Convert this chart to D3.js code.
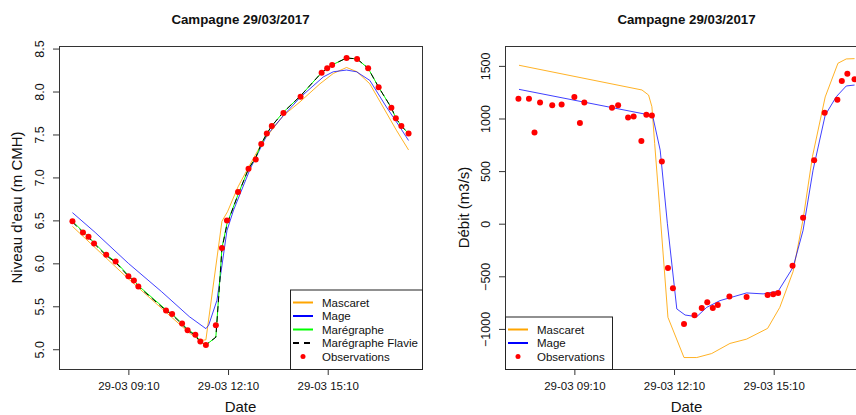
<!DOCTYPE html>
<html>
<head>
<meta charset="utf-8">
<script src="https://cdnjs.cloudflare.com/ajax/libs/d3/7.8.5/d3.min.js"></script>
<style>
    body { margin: 0; background: #fff; }
    svg text { font-family: "Liberation Sans", Arial, Helvetica, sans-serif; fill: #111; }
</style>
</head>
<body>
<div id="chart"></div>
<script>

// ---- data ----
const day = "2017-03-29 ";
const xTickTimes = ["09:10", "12:10", "15:10"];

// observation times, shared by both panels
const obsTimes = ["07:29", "07:48", "07:58", "08:08", "08:30", "08:47", "09:10", "09:20", "09:28",
    "10:18", "10:29", "10:47", "10:57", "11:11", "11:20", "11:30", "11:48", "11:59", "12:08",
    "12:28", "12:47", "13:00", "13:10", "13:20", "13:29", "13:50", "14:21", "14:59", "15:09",
    "15:18", "15:44", "16:03", "16:23", "16:42", "17:05", "17:13", "17:23", "17:36"];

// water level (m CMH)
const obsLevel = [6.49, 6.36, 6.31, 6.23, 6.10, 6.02, 5.85, 5.80, 5.73,
    5.45, 5.41, 5.30, 5.22, 5.17, 5.09, 5.05, 5.28, 6.18, 6.50,
    6.83, 7.10, 7.21, 7.39, 7.51, 7.60, 7.75, 7.94, 8.22, 8.27,
    8.31, 8.39, 8.38, 8.27, 8.05, 7.81, 7.69, 7.60, 7.51];

const gaugeTimes = ["07:29", "07:48", "07:58", "08:08", "08:30", "08:47", "09:10", "09:20", "09:28",
    "10:18", "10:29", "10:47", "10:57", "11:11", "11:20", "11:30", "11:48", "11:55", "11:59", "12:08",
    "12:28", "12:47", "13:00", "13:10", "13:20", "13:29", "13:50", "14:21", "14:59", "15:09",
    "15:18", "15:44", "16:03", "16:23", "16:42", "17:05", "17:13", "17:23", "17:36"];
const gaugeLevel = [6.49, 6.37, 6.31, 6.24, 6.10, 6.02, 5.86, 5.80, 5.74,
    5.46, 5.41, 5.30, 5.23, 5.17, 5.09, 5.05, 5.14, 5.80, 6.18, 6.46,
    6.80, 7.10, 7.23, 7.39, 7.51, 7.60, 7.76, 7.95, 8.22, 8.27,
    8.31, 8.39, 8.38, 8.27, 8.05, 7.81, 7.69, 7.60, 7.51];
const flavieLevel = [6.48, 6.36, 6.30, 6.23, 6.09, 6.01, 5.85, 5.79, 5.73,
    5.45, 5.40, 5.29, 5.22, 5.16, 5.08, 5.05, 5.14, 5.78, 6.17, 6.45,
    6.80, 7.10, 7.23, 7.39, 7.51, 7.60, 7.76, 7.95, 8.22, 8.27,
    8.31, 8.39, 8.38, 8.27, 8.05, 7.81, 7.69, 7.60, 7.51];

const mascaretLevelTimes = ["07:29", "09:10", "11:00", "11:20", "11:30", "11:59", "12:09", "12:28", "12:47",
    "13:14", "13:50", "14:20", "14:56", "15:20", "15:44", "16:03", "16:26", "16:50", "17:14", "17:36"];
const mascaretLevel = [6.43, 5.82, 5.19, 5.10, 5.11, 6.49, 6.60, 6.89, 7.12,
    7.43, 7.72, 7.88, 8.09, 8.21, 8.28, 8.23, 8.09, 7.82, 7.55, 7.32];

const mageLevelTimes = ["07:29", "08:10", "09:10", "10:10", "11:00", "11:30", "11:35", "11:50", "11:56", "12:08",
    "12:20", "12:50", "13:20", "13:50", "14:20", "15:02", "15:20", "15:44", "16:02", "16:26", "16:56", "17:20", "17:36"];
const mageLevel = [6.59, 6.36, 6.00, 5.67, 5.38, 5.24, 5.28, 5.57, 5.84, 6.38,
    6.62, 7.10, 7.49, 7.72, 7.93, 8.17, 8.23, 8.25, 8.23, 8.13, 7.82, 7.59, 7.43];

// discharge (m3/s)
const obsFlow = [1188, 1188, 867, 1153, 1125, 1134, 1204, 956, 1153,
    1102, 1125, 1010, 1020, 787, 1035, 1029, 591, -420, -614,
    -953, -871, -801, -747, -801, -772, -693, -696, -677, -671,
    -658, -400, 57, 603, 1054, 1178, 1357, 1426, 1373];

const mascaretFlowTimes = ["07:30", "11:12", "11:24", "11:30", "11:35", "11:44", "11:59", "12:28", "12:51",
    "13:18", "13:51", "14:21", "14:59", "15:21", "15:45", "16:03", "16:20", "16:43", "17:06", "17:21", "17:36"];
const mascaretFlow = [1506, 1271, 1223, 1112, 763, 150, -890, -1272, -1272,
    -1234, -1138, -1097, -995, -795, -455, 40, 640, 1205, 1525, 1566, 1569];

const mageFlowTimes = ["07:30", "11:27", "11:32", "11:45", "11:58", "12:15", "12:30", "12:51", "13:09",
    "13:33", "14:21", "14:51", "15:18", "15:45", "16:03", "16:21", "16:43", "17:03", "17:21", "17:36"];
const mageFlow = [1277, 1032, 1010, 699, 0, -810, -868, -884, -795,
    -731, -658, -667, -642, -414, -64, 508, 1032, 1207, 1309, 1318];

const levelTicks = [5.0, 5.5, 6.0, 6.5, 7.0, 7.5, 8.0, 8.5];
const flowTicks = [-1000, -500, 0, 500, 1000, 1500];

// ---- drawing ----
const parseTime = d3.timeParse("%Y-%m-%d %H:%M");
const toDate = t => parseTime(day + t);
const pairs = (times, vals) => times.map((t, i) => ({ t: toDate(t), v: vals[i] }));

const svg = d3.select("#chart").append("svg")
    .attr("width", 856)
    .attr("height", 415);

// R style time range: data extent plus 4% on each side
const tExt = d3.extent(obsTimes.map(toDate));
const tPad = (tExt[1] - tExt[0]) * 0.04;
const timeDomain = [new Date(+tExt[0] - tPad), new Date(+tExt[1] + tPad)];

function drawPanel(cfg) {
    const top = 46, bottom = 369;
    const x = d3.scaleTime().domain(timeDomain).range([cfg.left, cfg.right]);
    const y = d3.scaleLinear().domain(cfg.yDomain).range([bottom, top]);

    const g = svg.append("g");

    // title
    g.append("text")
        .attr("x", (cfg.left + cfg.right) / 2)
        .attr("y", 24)
        .attr("text-anchor", "middle")
        .style("font-size", "13.3px")
        .style("font-weight", "bold")
        .text("Campagne 29/03/2017");

    // x axis
    const xAxis = g.append("g")
        .attr("transform", "translate(0," + bottom + ")")
        .call(d3.axisBottom(x)
            .tickValues(xTickTimes.map(toDate))
            .tickFormat(d3.timeFormat("%d-%m %H:%M"))
            .tickSize(6)
            .tickSizeOuter(0));
    xAxis.select(".domain").remove();
    xAxis.selectAll("line").attr("stroke", "#333");
    xAxis.selectAll("text")
        .attr("y", 21)
        .attr("dy", 0)
        .style("font-size", "11.5px")
        .style("font-family", "'Liberation Sans', Arial, sans-serif")
        .attr("fill", "#111");

    // y axis
    const yAxis = g.append("g")
        .attr("transform", "translate(" + cfg.left + ",0)")
        .call(d3.axisLeft(y)
            .tickValues(cfg.yTicks)
            .tickFormat(cfg.yFormat)
            .tickSize(6)
            .tickSizeOuter(0));
    yAxis.select(".domain").remove();
    yAxis.selectAll("line").attr("stroke", "#333");
    yAxis.selectAll("text")
        .attr("x", 0)
        .attr("dy", 0)
        .attr("transform", "translate(-15,0) rotate(-90)")
        .attr("text-anchor", "middle")
        .style("font-size", "12.5px")
        .style("font-family", "'Liberation Sans', Arial, sans-serif")
        .attr("fill", "#111");

    // axis titles
    g.append("text")
        .attr("x", (cfg.left + cfg.right) / 2)
        .attr("y", 412)
        .attr("text-anchor", "middle")
        .style("font-size", "15px")
        .text("Date");
    g.append("text")
        .attr("transform", "translate(" + cfg.yTitleX + "," + ((top + bottom) / 2) + ") rotate(-90)")
        .attr("text-anchor", "middle")
        .style("font-size", "15px")
        .text(cfg.yTitle);

    // series
    const line = d3.line().x(d => x(d.t)).y(d => y(d.v));
    cfg.series.forEach(s => {
        g.append("path")
            .datum(pairs(s.times, s.values))
            .attr("fill", "none")
            .attr("stroke", s.color)
            .attr("stroke-width", 1)
            .attr("stroke-opacity", s.opacity || 1)
            .attr("stroke-dasharray", s.dash || null)
            .attr("d", line);
    });

    // observations
    g.append("g").selectAll("circle")
        .data(pairs(obsTimes, cfg.obs))
        .join("circle")
        .attr("cx", d => x(d.t))
        .attr("cy", d => y(d.v))
        .attr("r", 3)
        .attr("fill", "#ff0000");

    // plot frame
    g.append("rect")
        .attr("x", cfg.left + 0.5)
        .attr("y", top + 0.5)
        .attr("width", cfg.right - cfg.left)
        .attr("height", bottom - top)
        .attr("fill", "none")
        .attr("stroke", "#333");

    // legend
    const lg = cfg.legend;
    const rowH = 13.5;
    const boxH = lg.items.length * rowH + 12;
    const leg = g.append("g");
    leg.append("rect")
        .attr("x", lg.x + 0.5)
        .attr("y", bottom - boxH + 0.5)
        .attr("width", lg.w)
        .attr("height", boxH)
        .attr("fill", "#fff")
        .attr("stroke", "#222");
    lg.items.forEach((it, i) => {
        const cy = bottom - boxH + 13 + i * rowH;
        if (it.point) {
            leg.append("circle")
                .attr("cx", lg.x + 13)
                .attr("cy", cy)
                .attr("r", 2.5)
                .attr("fill", "#ff0000");
        } else {
            leg.append("line")
                .attr("x1", lg.x + 3).attr("x2", lg.x + 23)
                .attr("y1", cy).attr("y2", cy)
                .attr("stroke", it.color)
                .attr("stroke-width", 2)
                .attr("stroke-dasharray", it.dash || null);
        }
        leg.append("text")
            .attr("x", lg.x + 32)
            .attr("y", cy + 4)
            .style("font-size", "11.5px")
            .text(it.label);
    });
}

drawPanel({
    left: 59, right: 422,
    yDomain: [4.77, 8.53],
    yTicks: levelTicks,
    yFormat: d3.format(".1f"),
    yTitle: "Niveau d'eau (m CMH)",
    yTitleX: 22,
    obs: obsLevel,
    series: [
        { times: mascaretLevelTimes, values: mascaretLevel, color: "#ffa500", opacity: 0.85 },
        { times: mageLevelTimes, values: mageLevel, color: "#0000ff", opacity: 0.75 },
        { times: gaugeTimes, values: gaugeLevel, color: "#00ff00" },
        { times: gaugeTimes, values: flavieLevel, color: "#000", dash: "6,4" }
    ],
    legend: {
        x: 290, w: 132,
        items: [
            { label: "Mascaret", color: "#ffa500" },
            { label: "Mage", color: "#0000ff" },
            { label: "Marégraphe", color: "#00ff00" },
            { label: "Marégraphe Flavie", color: "#000", dash: "6,5" },
            { label: "Observations", point: true }
        ]
    }
});

drawPanel({
    left: 505, right: 868,
    yDomain: [-1381, 1689],
    yTicks: flowTicks,
    yFormat: d3.format("d"),
    yTitle: "Débit (m3/s)",
    yTitleX: 469,
    obs: obsFlow,
    series: [
        { times: mascaretFlowTimes, values: mascaretFlow, color: "#ffa500", opacity: 0.85 },
        { times: mageFlowTimes, values: mageFlow, color: "#0000ff", opacity: 0.75 }
    ],
    legend: {
        x: 505, w: 107,
        items: [
            { label: "Mascaret", color: "#ffa500" },
            { label: "Mage", color: "#0000ff" },
            { label: "Observations", point: true }
        ]
    }
});
</script>
</body>
</html>
